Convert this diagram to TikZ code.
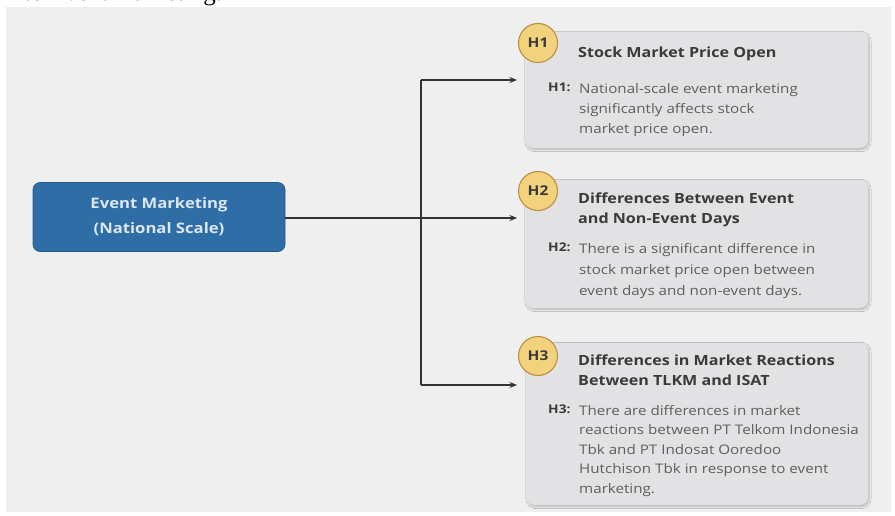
\documentclass[tikz,border=0pt]{standalone}
\usepackage{fontspec}
\setmainfont[FakeStretch=1.15]{Open Sans}
\newfontfamily\seriffont{Liberation Serif}
\usetikzlibrary{arrows.meta,shadows.blur}
\definecolor{bgc}{HTML}{EFEFEF}
\definecolor{cardc}{HTML}{E2E2E5}
\definecolor{bluec}{HTML}{2E6DA6}
\definecolor{bluetext}{HTML}{DCE7F2}
\definecolor{goldc}{HTML}{F2D27C}
\definecolor{goldline}{HTML}{B89040}
\definecolor{titlec}{HTML}{3A3A3A}
\definecolor{bodyc}{HTML}{5E5E5E}
\definecolor{linec}{HTML}{333333}
\begin{document}
\begin{tikzpicture}[x=1pt,y=-1pt,
  card/.style={rounded corners=8pt,fill=cardc,blur shadow={shadow blur steps=6,shadow xshift=1pt,shadow yshift=-1.5pt,shadow opacity=25}},
  badge/.style={circle,fill=goldc,draw=goldline,line width=1.1pt,minimum size=39pt,inner sep=0pt,font=\fontsize{13.5}{13.5}\selectfont\bfseries,text=titlec},
  ctitle/.style={anchor=north west,inner sep=0pt,align=left,font=\fontsize{14}{20}\selectfont\bfseries,text=titlec},
  hlabel/.style={anchor=north west,inner sep=0pt,font=\fontsize{12}{20}\selectfont\bfseries,text=titlec},
  hbody/.style={anchor=north west,inner sep=0pt,align=left,text=bodyc},
  conn/.style={draw=linec,line width=1.1pt},
  arr/.style={conn,-{Stealth[length=7.5pt,width=6pt]}}]
\useasboundingbox (0,0) rectangle (895,516);
\fill[white] (0,0) rectangle (895,516);
\begin{scope}
\clip (0,0) rectangle (895,516);
\node[anchor=base west,inner sep=0pt,font=\seriffont\fontsize{25}{25}\selectfont] (toptext) at (24,1) {to Event marketing.};
\end{scope}
\fill[bgc] (6,7) rectangle (891,512);
% source box
\node[rounded corners=7pt,fill=bluec,draw=bluec!80!black,line width=0.6pt,minimum width=252pt,minimum height=69pt,align=center,font=\fontsize{14.5}{25}\selectfont\bfseries,text=bluetext] (em) at (159,217) {Event Marketing\\(National Scale)};
% cards
\node[card,minimum width=342pt,minimum height=116pt,inner sep=0pt] (c1) at (697,90) {};
\node[card,minimum width=342pt,minimum height=128pt,inner sep=0pt] (c2) at (697,244) {};
\node[card,minimum width=341pt,minimum height=162pt,inner sep=0pt] (c3) at (697.5,424) {};
% badges
\node[badge] (b1) at (538,43) {H1};
\node[badge] (b2) at (538,191) {H2};
\node[badge] (b3) at (538,356) {H3};
% titles
\node[ctitle] (t1) at (578,47) {Stock Market Price Open};
\node[ctitle] (t2) at (578,193) {Differences Between Event\\and Non-Event Days};
\node[ctitle] (t3) at (578,355) {Differences in Market Reactions\\Between TLKM and ISAT};
% bodies
\node[hlabel] (l1) at (548,83) {H1:};
\node[hbody,font=\fontsize{13.2}{20}\selectfont] (d1) at (579,83) {National-scale event marketing\\significantly affects stock\\market price open.};
\node[hlabel] (l2) at (548,243) {H2:};
\node[hbody,font=\fontsize{13.2}{21}\selectfont] (d2) at (579,243) {There is a significant difference in\\stock market price open between\\event days and non-event days.};
\node[hlabel] (l3) at (548,405) {H3:};
\node[hbody,font=\fontsize{13.2}{19.5}\selectfont] (d3) at (579,405) {There are differences in market\\reactions between PT Telkom Indonesia\\Tbk and PT Indosat Ooredoo\\Hutchison Tbk in response to event\\marketing.};
% connectors
\coordinate (jt) at (421,80);
\coordinate (jb) at (421,385);
\coordinate (a1) at (517,80);
\coordinate (a2) at (517,218);
\coordinate (a3) at (517,385);
\draw[conn] (jt) -- (jb);
\draw[arr] (em.east |- a2) -- (a2);
\draw[arr] (jt) -- (a1);
\draw[arr] (jb) -- (a3);
\end{tikzpicture}
\end{document}
